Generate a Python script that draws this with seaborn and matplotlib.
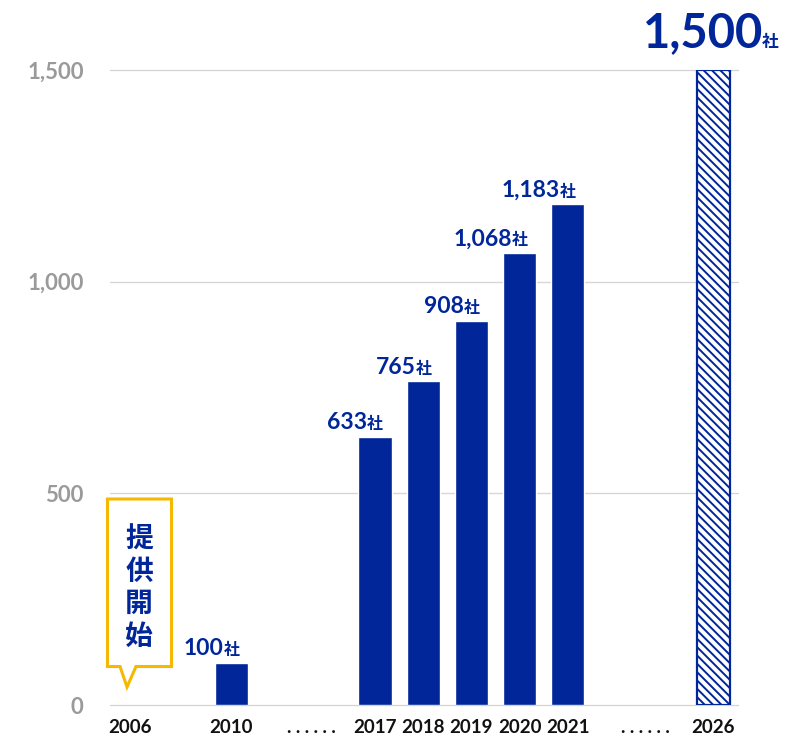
import pandas as pd
import matplotlib.pyplot as plt
import seaborn as sns
from matplotlib.patches import Polygon

# data
years = ['2010', '2017', '2018', '2019', '2020', '2021', '2026']
counts = [100, 633, 765, 908, 1068, 1183, 1500]
tick_labels = ['2006', '2010', '. . . . . .', '2017', '2018', '2019', '2020', '2021',
               '. . . . . .', '2026']
ytick_vals = [0, 500, 1000, 1500]
ytick_text = ['0', '500', '1,000', '1,500']

# layout (x slots, uneven spacing like the original)
tick_pos = [0, 2.1, 3.76, 5.08, 6.08, 7.08, 8.08, 9.08, 10.68, 12.1]
bar_pos = [tick_pos[i] for i in (1, 3, 4, 5, 6, 7, 9)]

blue = '#00269A'
yellow = '#F6B800'
fonts = ['Lato', 'Noto Sans CJK JP', 'DejaVu Sans']

sns.set_style('white')
plt.rcParams['font.family'] = fonts
plt.rcParams['hatch.linewidth'] = 1.4

fig = plt.figure(figsize=(7.85, 7.36), dpi=100)
ax = fig.add_axes([110 / 785, 1 - 705 / 736, 628 / 785, 635 / 736])

df = pd.DataFrame({'pos': bar_pos, 'count': counts})
sns.barplot(data=df, x='pos', y='count', native_scale=True, width=0.69,
            color=blue, saturation=1, ax=ax, zorder=3)

# future target bar: hatched
last = ax.patches[-1]
last.set_facecolor('white')
last.set_edgecolor(blue)
last.set_linewidth(1.6)
last.set_hatch('\\\\\\\\')

ax.set_xlim(-0.415, 12.61)
ax.set_ylim(0, 1500)
ax.set_xlabel('')
ax.set_ylabel('')
sns.despine(ax=ax, left=True, bottom=True)

ax.set_yticks(ytick_vals)
ax.set_yticklabels(ytick_text, color='#9a9a9a', fontsize=16, fontweight='bold')
ax.set_xticks(tick_pos)
ax.set_xticklabels(tick_labels, color='#111111', fontsize=13.5, fontweight='bold')
ax.tick_params(axis='y', length=0, pad=19)
ax.tick_params(axis='x', length=0, pad=10)
for v in ytick_vals:
    ax.axhline(v, color='#d3d3d3', lw=0.9, zorder=1, clip_on=False)

# value labels
for x, c in zip(bar_pos[:-1], counts[:-1]):
    ax.annotate('社', (x + 0.17, c), xytext=(0, 5.5), textcoords='offset points',
                ha='right', va='baseline', color=blue, fontsize=11.5,
                fontweight='bold', family=fonts)
    ax.annotate(f'{c:,}', (x + 0.17, c), xytext=(-11.5, 5.5), textcoords='offset points',
                ha='right', va='baseline', color=blue, fontsize=16.5,
                fontweight='bold', family=fonts)

# big target label
ax.annotate('社', (bar_pos[-1] + 1.35, counts[-1]), xytext=(0, 16.5), textcoords='offset points',
            ha='right', va='baseline', color=blue, fontsize=12, fontweight='bold',
            family=fonts, annotation_clip=False)
ax.annotate(f'{counts[-1]:,}', (bar_pos[-1] + 1.35, counts[-1]), xytext=(-11, 16.5),
            textcoords='offset points', ha='right', va='baseline', color=blue,
            fontsize=34, fontweight='bold', family=fonts, annotation_clip=False)

# callout for 2006
callout = [(-0.467, 486.6), (0.861, 486.6), (0.861, 90.9), (0.124, 90.9),
           (-0.062, 42.5), (-0.207, 90.9), (-0.467, 90.9)]
ax.add_patch(Polygon(callout, closed=True, facecolor='white', edgecolor=yellow,
                     lw=2.2, joinstyle='miter', clip_on=False, zorder=4))
ax.text(0.187, 276, '提\n供\n開\n始', ha='center', va='center', color=blue,
        fontsize=20, fontweight='bold', linespacing=1.2,
        family=['Noto Sans CJK JP'], zorder=5)

fig.savefig('out.png', dpi=100)
